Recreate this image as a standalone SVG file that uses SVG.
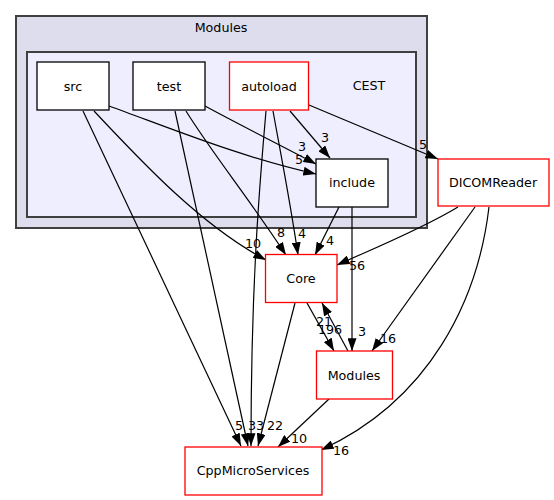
<svg xmlns="http://www.w3.org/2000/svg" width="554" height="500" viewBox="0 0 554 500">
<style>
text{font-family:"DejaVu Sans",sans-serif;fill:#000}
.n{font-size:12.7px;text-anchor:middle}
.l{font-size:12.7px;text-anchor:middle}
.c1{fill:#ddddee;stroke:#404040;stroke-width:2}
.c2{fill:#eeeeff;stroke:#404040;stroke-width:2}
.bk{fill:#fff;stroke:#000;stroke-width:1.3}
.rd{fill:#fff;stroke:#ff0000;stroke-width:1.3}
.e{fill:none;stroke:#000;stroke-width:1.2;marker-end:url(#a)}
</style>
<defs>
<marker id="a" viewBox="0 0 12.7 9" refX="12.7" refY="4.5" markerWidth="12.7" markerHeight="9" markerUnits="userSpaceOnUse" orient="auto">
<path d="M0,0 L12.7,4.5 L0,9 z" fill="#000"/>
</marker>
</defs>
<g id="cluster-modules">
<rect class="c1" x="16" y="16" width="411" height="212"/>
<text class="n" x="221" y="32">Modules</text>
</g>
<g id="cluster-cest">
<rect class="c2" x="27" y="52" width="389" height="165"/>
<text class="n" x="369" y="90">CEST</text>
</g>
<g id="edges">
<path class="e" d="M109,106 C170,128 240,157 316,174"/>
<path class="e" d="M205,106 C240,125 280,145 316,164"/>
<path class="e" d="M290,111 L330,158"/>
<path class="e" d="M309,105 L438,159"/>
<path class="e" d="M94,111 C140,160 200,225 266,260"/>
<path class="e" d="M83,111 L241,446"/>
<path class="e" d="M186,111 C210,150 250,200 286,255"/>
<path class="e" d="M175,111 L248,446"/>
<path class="e" d="M266,111 C260,180 251,280 251,446"/>
<path class="e" d="M273,111 C280,150 290,200 298,255"/>
<path class="e" d="M339,207 L315,255"/>
<path class="e" d="M352,207 L352,351"/>
<path class="e" d="M458,207 C420,230 370,250 337,265"/>
<path class="e" d="M475,207 L372,351"/>
<path class="e" d="M489,207 C478,300 430,400 321,450"/>
<path class="e" d="M307,303 L334,351"/>
<path class="e" d="M348,351 L322,303"/>
<path class="e" d="M295,303 L258,446"/>
<path class="e" d="M329,399 L278,447"/>
<text class="l" x="299" y="164">5</text>
<text class="l" x="302" y="151">3</text>
<text class="l" x="325" y="142">3</text>
<text class="l" x="423" y="149">5</text>
<text class="l" x="253" y="248">10</text>
<text class="l" x="281" y="237">8</text>
<text class="l" x="302" y="238">4</text>
<text class="l" x="330" y="245">4</text>
<text class="l" x="357" y="270">56</text>
<text class="l" x="362" y="336">3</text>
<text class="l" x="388" y="343">16</text>
<text class="l" x="324" y="326">21</text>
<text class="l" x="330" y="334">196</text>
<text class="l" x="239" y="430">5</text>
<text class="l" x="252" y="430">3</text>
<text class="l" x="260" y="430">3</text>
<text class="l" x="275" y="430">22</text>
<text class="l" x="299" y="443">10</text>
<text class="l" x="341" y="455">16</text>
</g>
<g id="node-src">
<rect class="bk" x="37" y="62" width="72" height="48"/>
<text class="n" x="73" y="90.5">src</text>
</g>
<g id="node-test">
<rect class="bk" x="133" y="62" width="72" height="48"/>
<text class="n" x="169" y="90.5">test</text>
</g>
<g id="node-autoload">
<rect class="rd" x="229.5" y="62" width="79" height="48"/>
<text class="n" x="269" y="90.5">autoload</text>
</g>
<g id="node-include">
<rect class="bk" x="316" y="159" width="72" height="48"/>
<text class="n" x="352" y="187">include</text>
</g>
<g id="node-dicomreader">
<rect class="rd" x="438" y="159" width="111" height="47"/>
<text class="n" x="493" y="187">DICOMReader</text>
</g>
<g id="node-core">
<rect class="rd" x="265.5" y="254.5" width="71.5" height="48"/>
<text class="n" x="301" y="282.5">Core</text>
</g>
<g id="node-modules">
<rect class="rd" x="316.5" y="351" width="76" height="48"/>
<text class="n" x="354" y="379.5">Modules</text>
</g>
<g id="node-cppmicroservices">
<rect class="rd" x="185" y="447" width="137" height="48"/>
<text class="n" x="253" y="475">CppMicroServices</text>
</g>
</svg>
